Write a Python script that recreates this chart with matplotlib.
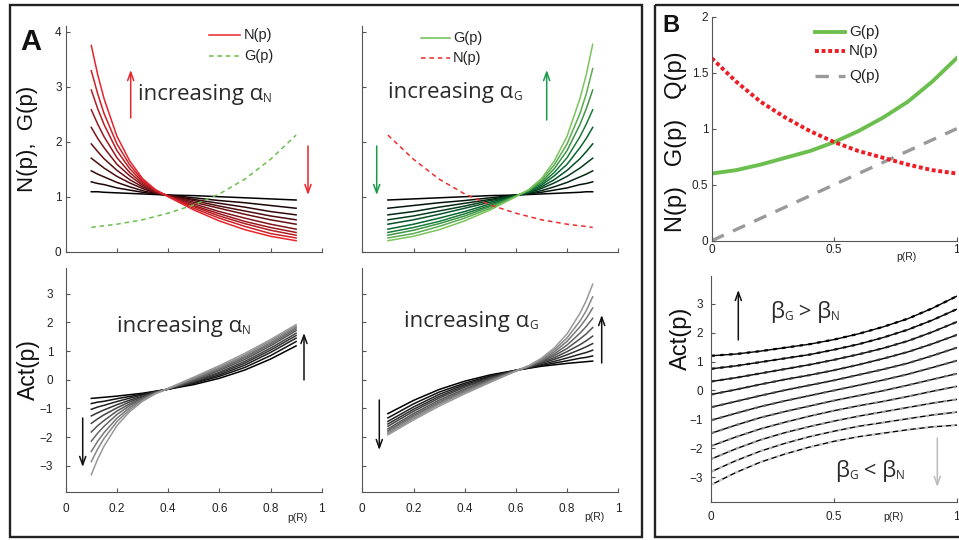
import numpy as np
import matplotlib
matplotlib.use("Agg")
import matplotlib.pyplot as plt
from matplotlib.patches import Rectangle
from matplotlib.colors import LinearSegmentedColormap

plt.rcParams['font.family'] = ['Liberation Sans', 'DejaVu Sans']

# ---------------- data ----------------
# panel A, left column: N(p) family, steep side on the left
p_left = [0.1, 0.125, 0.15, 0.2, 0.25, 0.3, 0.35, 0.4, 0.5, 0.6, 0.7, 0.8, 0.9]
N_family = [
    [1.09, 1.09, 1.08, 1.07, 1.06, 1.05, 1.04, 1.03, 1.02, 1.00, 0.98, 0.96, 0.94],
    [1.27, 1.24, 1.22, 1.16, 1.12, 1.08, 1.05, 1.03, 0.98, 0.93, 0.89, 0.84, 0.79],
    [1.47, 1.41, 1.36, 1.26, 1.18, 1.11, 1.06, 1.03, 0.95, 0.88, 0.81, 0.73, 0.67],
    [1.70, 1.61, 1.52, 1.37, 1.25, 1.15, 1.07, 1.02, 0.93, 0.83, 0.74, 0.65, 0.58],
    [1.96, 1.82, 1.69, 1.48, 1.31, 1.18, 1.08, 1.02, 0.90, 0.79, 0.68, 0.58, 0.50],
    [2.26, 2.06, 1.89, 1.59, 1.38, 1.21, 1.09, 1.02, 0.87, 0.73, 0.61, 0.50, 0.41],
    [2.58, 2.32, 2.09, 1.71, 1.44, 1.24, 1.10, 1.01, 0.84, 0.69, 0.55, 0.44, 0.35],
    [2.94, 2.60, 2.31, 1.84, 1.51, 1.27, 1.11, 1.01, 0.82, 0.65, 0.51, 0.39, 0.30],
    [3.29, 2.87, 2.51, 1.96, 1.58, 1.30, 1.12, 1.01, 0.79, 0.61, 0.46, 0.33, 0.25],
    [3.75, 3.22, 2.78, 2.10, 1.65, 1.33, 1.13, 1.00, 0.76, 0.56, 0.40, 0.28, 0.20],
]
G_fixed = [0.44, 0.46, 0.47, 0.50, 0.54, 0.58, 0.64, 0.70, 0.85, 1.05, 1.32, 1.68, 2.12]
act_alphaN = [
    [-0.65, -0.63, -0.61, -0.57, -0.52, -0.47, -0.40, -0.33, -0.17, 0.05, 0.34, 0.72, 1.18],
    [-0.83, -0.78, -0.75, -0.66, -0.58, -0.50, -0.41, -0.33, -0.13, 0.12, 0.43, 0.84, 1.33],
    [-1.03, -0.95, -0.89, -0.76, -0.64, -0.53, -0.42, -0.33, -0.10, 0.17, 0.51, 0.95, 1.45],
    [-1.26, -1.15, -1.05, -0.87, -0.71, -0.57, -0.43, -0.32, -0.08, 0.22, 0.58, 1.03, 1.54],
    [-1.52, -1.36, -1.22, -0.98, -0.77, -0.60, -0.44, -0.32, -0.05, 0.26, 0.64, 1.10, 1.62],
    [-1.82, -1.60, -1.42, -1.09, -0.84, -0.63, -0.45, -0.32, -0.02, 0.32, 0.71, 1.18, 1.71],
    [-2.14, -1.86, -1.62, -1.21, -0.90, -0.66, -0.46, -0.31, 0.01, 0.36, 0.77, 1.24, 1.77],
    [-2.50, -2.14, -1.84, -1.34, -0.97, -0.69, -0.47, -0.31, 0.03, 0.40, 0.81, 1.29, 1.82],
    [-2.85, -2.41, -2.04, -1.46, -1.04, -0.72, -0.48, -0.31, 0.06, 0.44, 0.86, 1.35, 1.87],
    [-3.31, -2.76, -2.31, -1.60, -1.11, -0.75, -0.49, -0.30, 0.09, 0.49, 0.92, 1.40, 1.92],
]

# panel A, right column: G(p) family, steep side on the right
p_right = [0.1, 0.2, 0.3, 0.4, 0.5, 0.6, 0.65, 0.7, 0.75, 0.8, 0.85, 0.875, 0.9]
G_family = [
    [0.94, 0.96, 0.98, 1.00, 1.02, 1.03, 1.04, 1.05, 1.06, 1.07, 1.08, 1.09, 1.09],
    [0.79, 0.84, 0.89, 0.93, 0.98, 1.03, 1.05, 1.08, 1.12, 1.16, 1.22, 1.24, 1.27],
    [0.67, 0.73, 0.81, 0.88, 0.95, 1.03, 1.06, 1.11, 1.18, 1.26, 1.36, 1.41, 1.47],
    [0.58, 0.65, 0.74, 0.83, 0.93, 1.02, 1.07, 1.15, 1.25, 1.37, 1.52, 1.61, 1.70],
    [0.50, 0.58, 0.68, 0.79, 0.90, 1.02, 1.08, 1.18, 1.31, 1.48, 1.69, 1.82, 1.96],
    [0.41, 0.50, 0.61, 0.73, 0.87, 1.02, 1.09, 1.21, 1.38, 1.59, 1.89, 2.06, 2.26],
    [0.35, 0.44, 0.55, 0.69, 0.84, 1.01, 1.10, 1.24, 1.44, 1.71, 2.09, 2.32, 2.58],
    [0.30, 0.39, 0.51, 0.65, 0.82, 1.01, 1.11, 1.27, 1.51, 1.84, 2.31, 2.60, 2.94],
    [0.25, 0.33, 0.46, 0.61, 0.79, 1.01, 1.12, 1.30, 1.58, 1.96, 2.51, 2.87, 3.33],
    [0.20, 0.28, 0.40, 0.56, 0.76, 1.00, 1.13, 1.33, 1.65, 2.10, 2.78, 3.22, 3.77],
]
N_fixed = [2.12, 1.68, 1.32, 1.05, 0.85, 0.70, 0.64, 0.58, 0.54, 0.50, 0.47, 0.46, 0.44]
act_alphaG = [
    [-1.18, -0.72, -0.34, -0.05, 0.17, 0.33, 0.40, 0.47, 0.52, 0.57, 0.61, 0.63, 0.65],
    [-1.33, -0.84, -0.43, -0.12, 0.13, 0.33, 0.41, 0.50, 0.58, 0.66, 0.75, 0.78, 0.83],
    [-1.45, -0.95, -0.51, -0.17, 0.10, 0.33, 0.42, 0.53, 0.64, 0.76, 0.89, 0.95, 1.03],
    [-1.54, -1.03, -0.58, -0.22, 0.08, 0.32, 0.43, 0.57, 0.71, 0.87, 1.05, 1.15, 1.26],
    [-1.62, -1.10, -0.64, -0.26, 0.05, 0.32, 0.44, 0.60, 0.77, 0.98, 1.22, 1.36, 1.52],
    [-1.71, -1.18, -0.71, -0.32, 0.02, 0.32, 0.45, 0.63, 0.84, 1.09, 1.42, 1.60, 1.82],
    [-1.77, -1.24, -0.77, -0.36, -0.01, 0.31, 0.46, 0.66, 0.90, 1.21, 1.62, 1.86, 2.14],
    [-1.82, -1.29, -0.81, -0.40, -0.03, 0.31, 0.47, 0.69, 0.97, 1.34, 1.84, 2.14, 2.50],
    [-1.87, -1.35, -0.86, -0.44, -0.06, 0.31, 0.48, 0.72, 1.04, 1.46, 2.04, 2.41, 2.89],
    [-1.92, -1.40, -0.92, -0.49, -0.09, 0.30, 0.49, 0.75, 1.11, 1.60, 2.31, 2.76, 3.33],
]

# panel B
p_b = [0.0, 0.1, 0.2, 0.3, 0.4, 0.5, 0.6, 0.7, 0.8, 0.9, 1.0]
G_b = [0.60, 0.63, 0.68, 0.74, 0.80, 0.88, 0.98, 1.10, 1.24, 1.42, 1.63]
N_b = [1.63, 1.42, 1.24, 1.10, 0.98, 0.88, 0.80, 0.74, 0.68, 0.63, 0.60]
Q_b = [0.0, 0.1, 0.2, 0.3, 0.4, 0.5, 0.6, 0.7, 0.8, 0.9, 1.0]
act_beta = [
    [1.20, 1.26, 1.36, 1.48, 1.60, 1.76, 1.96, 2.20, 2.48, 2.84, 3.26],
    [0.75, 0.85, 0.98, 1.11, 1.24, 1.41, 1.60, 1.83, 2.10, 2.43, 2.81],
    [0.31, 0.44, 0.59, 0.74, 0.89, 1.06, 1.25, 1.46, 1.71, 2.02, 2.37],
    [-0.14, 0.03, 0.21, 0.38, 0.53, 0.70, 0.89, 1.10, 1.33, 1.61, 1.92],
    [-0.58, -0.38, -0.18, 0.01, 0.18, 0.35, 0.54, 0.73, 0.94, 1.20, 1.48],
    [-1.03, -0.79, -0.56, -0.36, -0.18, 0.00, 0.18, 0.36, 0.56, 0.79, 1.03],
    [-1.48, -1.20, -0.94, -0.73, -0.54, -0.35, -0.18, -0.01, 0.18, 0.38, 0.58],
    [-1.92, -1.61, -1.33, -1.10, -0.89, -0.70, -0.53, -0.38, -0.21, -0.03, 0.14],
    [-2.37, -2.02, -1.71, -1.46, -1.25, -1.06, -0.89, -0.74, -0.59, -0.44, -0.31],
    [-2.81, -2.43, -2.10, -1.83, -1.60, -1.41, -1.24, -1.11, -0.98, -0.85, -0.75],
    [-3.26, -2.84, -2.48, -2.20, -1.96, -1.76, -1.60, -1.48, -1.36, -1.26, -1.20],
]

xticks_a = [0, 0.2, 0.4, 0.6, 0.8, 1]
xticklabels_a = ['0', '0.2', '0.4', '0.6', '0.8', '1']
yticks_top_a = [0, 1, 2, 3, 4]
yticks_act = [-3, -2, -1, 0, 1, 2, 3]
yticklabels_act = ['\u22123', '\u22122', '\u22121', '0', '1', '2', '3']
xticks_b = [0, 0.5, 1]
xticklabels_b = ['0', '0.5', '1']
yticks_top_b = [0, 0.5, 1, 1.5, 2]
yticklabels_top_b = ['0', '0.5', '1', '1.5', '2']

# ---------------- figure ----------------
W, H = 959, 540
fig = plt.figure(figsize=(W / 100, H / 100), dpi=100)
fig.patch.set_facecolor('white')

RED = '#e8252d'
GREEN = '#6cbf4f'
AXC = '#555555'


def add_ax(left, bottom, width, height):
    # positions in pixels, measured from the top-left corner
    return fig.add_axes([left / W, 1 - bottom / H, width / W, height / H])


def style(ax, xpad=3, ypad=3):
    for s in ['top', 'right']:
        ax.spines[s].set_visible(False)
    for s in ['left', 'bottom']:
        ax.spines[s].set_color(AXC)
        ax.spines[s].set_linewidth(0.8)
    ax.tick_params(direction='in', length=3, width=0.8, color=AXC,
                   labelsize=8.5, labelcolor='#222222')
    ax.tick_params(axis='x', pad=xpad)
    ax.tick_params(axis='y', pad=ypad)
    ax.patch.set_alpha(0)


red_cols = [(0.91 * t, 0.14 * t, 0.17 * t) for t in np.linspace(0, 1, 10)]
gcmap = LinearSegmentedColormap.from_list('gr', [(0, '#000000'), (0.6, '#0a6e34'), (1, '#7bc45c')])
green_cols = [gcmap(t) for t in np.linspace(0, 1, 10)]
gray_cols = [(0.6 * t,) * 3 for t in np.linspace(0, 1, 10)]

# A top-left
axA1 = add_ax(65.7, 251.7, 256, 225.5)
for k, ys in enumerate(N_family):
    axA1.plot(p_left, ys, color=red_cols[k], lw=1.1)
axA1.plot(p_left, G_fixed, color=GREEN, lw=1.1, ls=(0, (3, 2.5)))
axA1.set_xlim(0, 1)
axA1.set_ylim(0, 4.1)
axA1.set_xticks(xticks_a)
axA1.set_xticklabels([])
axA1.set_yticks(yticks_top_a)
axA1.set_yticklabels([str(v) for v in yticks_top_a])
style(axA1, ypad=3)

# A top-right
axA2 = add_ax(362.3, 251.7, 256, 225.5)
for k, ys in enumerate(G_family):
    axA2.plot(p_right, ys, color=green_cols[k], lw=1.1)
axA2.plot(p_right, N_fixed, color='#ee2a2a', lw=1.1, ls=(0, (3, 2.5)))
axA2.set_xlim(0, 1)
axA2.set_ylim(0, 4.1)
axA2.set_xticks(xticks_a)
axA2.set_xticklabels([])
axA2.set_yticks(yticks_top_a)
axA2.set_yticklabels([])
style(axA2)

# A bottom-left
axA3 = add_ax(65.7, 491.7, 256, 223.9)
for k, ys in enumerate(act_alphaN):
    axA3.plot(p_left, ys, color=gray_cols[k], lw=1.1)
axA3.set_xlim(0, 1)
axA3.set_ylim(-3.9, 3.9)
axA3.set_xticks(xticks_a)
axA3.set_xticklabels(xticklabels_a)
axA3.set_yticks(yticks_act)
axA3.set_yticklabels(yticklabels_act)
style(axA3, xpad=8, ypad=9)

# A bottom-right
axA4 = add_ax(362.3, 491.7, 256, 223.9)
for k, ys in enumerate(act_alphaG):
    axA4.plot(p_right, ys, color=gray_cols[k], lw=1.1)
axA4.set_xlim(0, 1)
axA4.set_ylim(-3.9, 3.9)
axA4.set_xticks(xticks_a)
axA4.set_xticklabels(xticklabels_a)
axA4.set_yticks(yticks_act)
axA4.set_yticklabels([])
style(axA4, xpad=8)

# B top
axB1 = add_ax(711.7, 240.7, 245, 224)
axB1.plot(p_b, Q_b, color='#9a9a9a', lw=2.4, ls=(0, (4, 3)))
axB1.plot(p_b, G_b, color=GREEN, lw=2.8)
axB1.plot(p_b, N_b, color='#ee1c24', lw=2.8, ls=(0, (1, 0.7)))
axB1.set_xlim(0, 1)
axB1.set_ylim(0, 2)
axB1.set_xticks(xticks_b)
axB1.set_xticklabels(xticklabels_b)
axB1.set_yticks(yticks_top_b)
axB1.set_yticklabels(yticklabels_top_b)
style(axB1, xpad=2.5, ypad=2.5)

# B bottom
axB2 = add_ax(711.3, 502.3, 245.4, 226)
dot_cols = [(0.8 * t,) * 3 for t in np.linspace(0, 1, len(act_beta))]
for k, ys in enumerate(act_beta):
    axB2.plot(p_b, ys, color='black', lw=1.0)
    axB2.plot(p_b, ys, color=dot_cols[k], lw=1.6, ls=(0, (1.6, 2.4)))
axB2.set_xlim(0, 1)
axB2.set_ylim(-3.87, 3.95)
axB2.set_xticks(xticks_b)
axB2.set_xticklabels(xticklabels_b)
axB2.set_yticks(yticks_act)
axB2.set_yticklabels(yticklabels_act)
style(axB2, xpad=6.5, ypad=6)

# ---------------- overlay in pixel coordinates ----------------
ov = fig.add_axes([0, 0, 1, 1])
ov.set_xlim(0, W)
ov.set_ylim(H, 0)
ov.axis('off')

# panel frames
ov.add_patch(Rectangle((10, 5), 632, 532, fill=False, lw=1.7, ec='#222222'))
ov.add_patch(Rectangle((654.5, 5), 330, 532, fill=False, lw=1.7, ec='#222222', clip_on=False))

ov.text(20, 50, 'A', fontsize=21, weight='bold', color='#111111', va='baseline')
ov.text(662, 32, 'B', fontsize=17, weight='bold', color='#111111', va='baseline')

# y labels
ov.text(28, 139, 'N(p),  G(p)', rotation=90, fontsize=16, ha='center', va='center', color='#111111')
ov.text(28, 370, 'Act(p)', rotation=90, fontsize=16.5, ha='center', va='center', color='#111111')
ov.text(676, 142, 'N(p)   G(p)   Q(p)', rotation=90, fontsize=17, ha='center', va='center', color='#111111')
ov.text(681, 338, 'Act(p)', rotation=90, fontsize=17, ha='center', va='center', color='#111111')

# p(R) labels
for x, y in [(297, 518), (594, 517), (906, 257), (893, 517)]:
    ov.text(x, y, 'p(R)', fontsize=7.5, ha='center', va='center', color='#222222')

# legends
ov.plot([209, 240], [35, 35], color=RED, lw=1.1)
ov.text(244, 35, 'N(p)', fontsize=10.5, va='center', color='#222222')
ov.plot([209, 240], [56, 56], color=GREEN, lw=1.1, ls=(0, (3, 2.5)))
ov.text(244, 56, 'G(p)', fontsize=10.5, va='center', color='#222222')

ov.plot([421, 450], [38, 38], color=GREEN, lw=1.1)
ov.text(453, 38, 'G(p)', fontsize=10.5, va='center', color='#222222')
ov.plot([421, 450], [58, 58], color='#ee2a2a', lw=1.1, ls=(0, (3, 2.5)))
ov.text(453, 58, 'N(p)', fontsize=10.5, va='center', color='#222222')

ov.plot([815, 845], [32, 32], color=GREEN, lw=2.8)
ov.text(849, 32, 'G(p)', fontsize=11, va='center', color='#222222')
ov.plot([815, 845], [51, 51], color='#ee1c24', lw=2.8, ls=(0, (1, 0.7)))
ov.text(849, 51, 'N(p)', fontsize=11, va='center', color='#222222')
ov.plot([815, 845], [76, 76], color='#9a9a9a', lw=2.4, ls=(0, (4, 3)))
ov.text(849, 76, 'Q(p)', fontsize=11, va='center', color='#222222')


# arrows
def arrow(x, y0, y1, color):
    ov.annotate('', xy=(x, y1), xytext=(x, y0),
                arrowprops=dict(arrowstyle='->,head_length=0.6,head_width=0.22',
                                color=color, lw=1.1, shrinkA=0, shrinkB=0))


arrow(130.7, 118, 70, RED)
arrow(308, 146, 195, RED)
arrow(546.7, 120, 70, '#1a9a4a')
arrow(376.7, 146, 195, '#1a9a4a')
arrow(82.7, 418, 467, '#111111')
arrow(304, 380, 333, '#111111')
arrow(379.3, 400, 450, '#111111')
arrow(601.7, 363, 315, '#111111')
arrow(738.3, 340, 290, '#111111')
arrow(937.3, 438, 487, '#bbbbbb')

# annotation texts with small subscripts
TF = ['Open Sans', 'DejaVu Sans']


def sub_text(x, y, pieces, size=16, subsize=8.5):
    prev = ov.text(x, y, pieces[0], fontsize=size, family=TF, color='#2a2a2a', va='baseline')
    for i, s in enumerate(pieces[1:]):
        fs = subsize if i % 2 == 0 else size
        prev = ov.annotate(s, xy=(1, 0), xycoords=prev, va='bottom', ha='left',
                           fontsize=fs, family=TF, color='#2a2a2a')


sub_text(138, 100, ['increasing \u03b1', 'N'])
sub_text(388, 98, ['increasing \u03b1', 'G'])
sub_text(117, 331.7, ['increasing \u03b1', 'N'])
sub_text(404, 326.7, ['increasing \u03b1', 'G'])
sub_text(770, 318, ['\u03b2', 'G', ' > \u03b2', 'N'])
sub_text(835, 476.7, ['\u03b2', 'G', ' < \u03b2', 'N'])

fig.savefig('out.png', dpi=100)
